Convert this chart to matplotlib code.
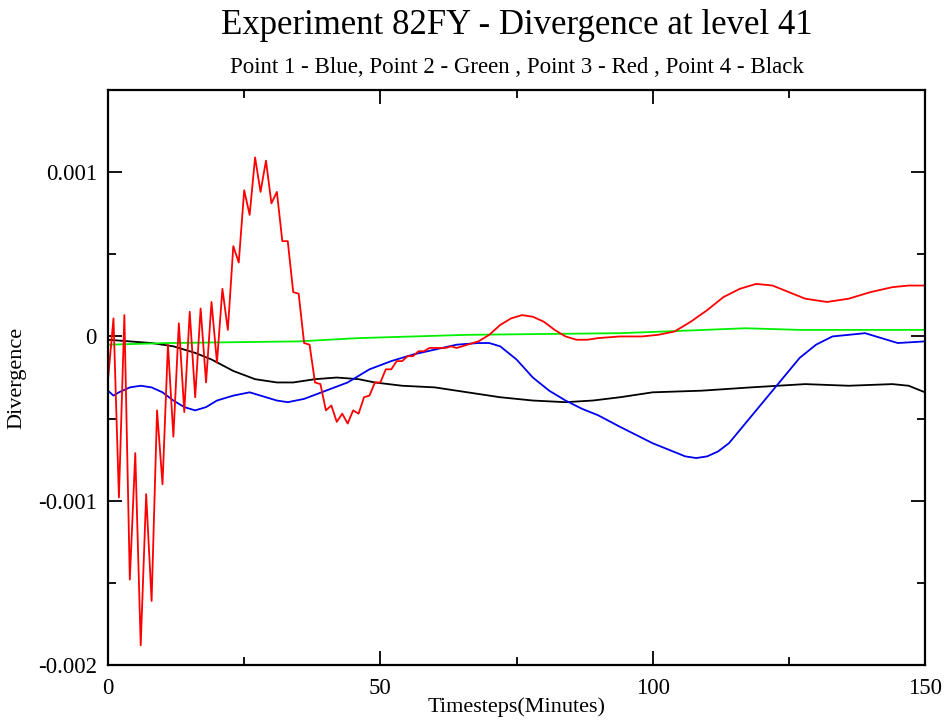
import numpy as np
import matplotlib
matplotlib.use("Agg")
import matplotlib.pyplot as plt
from matplotlib.ticker import MultipleLocator, FixedFormatter, FixedLocator

plt.rcParams["font.family"] = ["Liberation Serif", "DejaVu Serif"]

# Point 3 (red): one value per minute while it oscillates, then sparser knots
red_t = list(range(0, 67)) + [68, 70, 72, 74, 76, 78, 80, 82, 84, 86, 88, 90, 94, 98, 101,
                              104, 107, 110, 113, 116, 119, 122, 125, 128, 132, 136, 140,
                              144, 147, 150]
red_v = [-0.00026, 0.00011, -0.00098, 0.00013, -0.00148, -0.00071, -0.00188, -0.00096,
         -0.00161, -0.00045, -0.00090, -0.00005, -0.00061, 0.00008, -0.00046, 0.00015,
         -0.00037, 0.00017, -0.00028, 0.00021, -0.00016, 0.00029, 0.00004, 0.00055,
         0.00045, 0.00089, 0.00074, 0.00109, 0.00088, 0.00107, 0.00081, 0.00088,
         0.00058, 0.00058, 0.00027, 0.00026, -0.00004, -0.00005, -0.00028, -0.00029,
         -0.00045, -0.00042, -0.00052, -0.00047, -0.00053, -0.00045, -0.00047, -0.00037,
         -0.00036, -0.00028, -0.00028, -0.00020, -0.00020, -0.00015, -0.00015, -0.00012,
         -0.00012, -0.00009, -0.00009, -0.00007, -0.00007, -0.00007, -0.00007, -0.00006,
         -0.00007, -0.00006, -0.00005,
         -0.00003, 0.00001, 0.00007, 0.00011, 0.00013, 0.00012, 0.00009, 0.00004, 0.00000,
         -0.00002, -0.00002, -0.00001, 0.00000, 0.00000, 0.00001, 0.00003, 0.00009,
         0.00016, 0.00024, 0.00029, 0.00032, 0.00031, 0.00027, 0.00023, 0.00021, 0.00023,
         0.00027, 0.00030, 0.00031, 0.00031]

# Point 1 (blue)
blue_t = [0, 1, 2, 4, 6, 8, 10, 12, 14, 16, 18, 20, 23, 26, 28, 31, 33, 36, 40, 44, 48,
          52, 56, 60, 64, 68, 70, 72, 75, 78, 81, 84, 87, 90, 94, 97, 100, 103, 106, 108,
          110, 112, 114, 116, 118, 121, 124, 127, 130, 133, 136, 139, 142, 145, 150]
blue_v = [-0.00033, -0.00036, -0.00034, -0.00031, -0.00030, -0.00031, -0.00034, -0.00039,
          -0.00043, -0.00045, -0.00043, -0.00039, -0.00036, -0.00034, -0.00036, -0.00039,
          -0.00040, -0.00038, -0.00033, -0.00028, -0.00020, -0.00015, -0.00011, -0.00008,
          -0.00005, -0.00004, -0.00004, -0.00006, -0.00014, -0.00025, -0.00033, -0.00039,
          -0.00044, -0.00048, -0.00055, -0.00060, -0.00065, -0.00069, -0.00073, -0.00074,
          -0.00073, -0.00070, -0.00065, -0.00057, -0.00049, -0.00037, -0.00025, -0.00013,
          -0.00005, 0.00000, 0.00001, 0.00002, -0.00001, -0.00004, -0.00003]

# Point 2 (green)
green_t = [0, 11, 35, 46, 66, 94, 102, 117, 127, 150]
green_v = [-0.00005, -0.00004, -0.00003, -0.00001, 0.00001, 0.00002, 0.00003, 0.00005,
           0.00004, 0.00004]

# Point 4 (black)
black_t = [0, 4, 8, 12, 16, 19, 23, 27, 31, 34, 38, 42, 46, 49, 54, 60, 66, 72, 78, 84,
           89, 94, 100, 109, 118, 123, 128, 136, 144, 147, 150]
black_v = [-0.00002, -0.00003, -0.00004, -0.00006, -0.00010, -0.00014, -0.00021, -0.00026,
           -0.00028, -0.00028, -0.00026, -0.00025, -0.00026, -0.00028, -0.00030, -0.00031,
           -0.00034, -0.00037, -0.00039, -0.00040, -0.00039, -0.00037, -0.00034, -0.00033,
           -0.00031, -0.00030, -0.00029, -0.00030, -0.00029, -0.00030, -0.00034]

y_ticks = [-0.002, -0.001, 0, 0.001]
y_tick_labels = ["-0.002", "-0.001", "0", "0.001"]

fig = plt.figure(figsize=(9.46, 7.22), dpi=100)
ax = fig.add_axes([0.1142, 0.0789, 0.8636, 0.7964])

ax.plot(black_t, black_v, color="black", lw=1.3)
ax.plot(green_t, green_v, color="#00f000", lw=1.3)
ax.plot(blue_t, blue_v, color="#0000ee", lw=1.3)
ax.plot(red_t, red_v, color="#ff0000", lw=1.3)

ax.set_xlim(0, 150)
ax.set_ylim(-0.002, 0.0015)
ax.xaxis.set_major_locator(MultipleLocator(50))
ax.xaxis.set_minor_locator(MultipleLocator(25))
ax.yaxis.set_major_locator(FixedLocator(y_ticks))
ax.yaxis.set_major_formatter(FixedFormatter(y_tick_labels))
ax.yaxis.set_minor_locator(MultipleLocator(0.0005))
ax.tick_params(which="both", direction="in", top=True, right=True, width=1.3,
               labelsize=16.5)
ax.tick_params(axis="y", pad=8)
ax.tick_params(axis="x", pad=9)
ax.tick_params(which="major", length=10)
ax.tick_params(which="minor", length=6)
for s in ax.spines.values():
    s.set_linewidth(1.6)

ax.set_xlabel("Timesteps(Minutes)", fontsize=16, labelpad=-1)
ax.set_ylabel("Divergence", fontsize=16, labelpad=8)

mid_x = 0.1142 + 0.8636 / 2
fig.text(mid_x, 0.964, "Experiment 82FY - Divergence at level 41", ha="center",
         va="center", fontsize=25)
fig.text(mid_x, 0.906, "Point 1 - Blue, Point 2 - Green , Point 3 - Red , Point 4 - Black",
         ha="center", va="center", fontsize=16.5)

fig.savefig("out.png", dpi=100)
